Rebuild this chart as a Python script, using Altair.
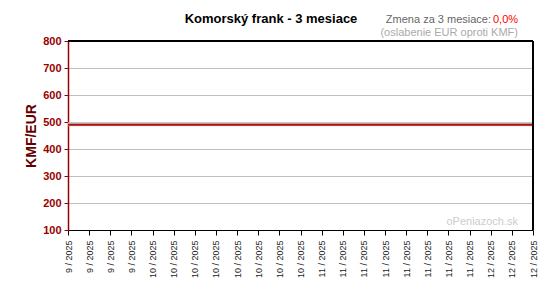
import altair as alt
import pandas as pd

tick_labels = ["9 / 2025"] * 4 + ["10 / 2025"] * 8 + ["11 / 2025"] * 8 + ["12 / 2025"] * 3
rate_values = [491.97] * 23
y_ticks = [100, 200, 300, 400, 500, 600, 700, 800]

df = pd.DataFrame({"i": list(range(len(rate_values))), "rate": rate_values})

W, H = 465, 189
FONT = "Liberation Sans"
label_arr = "[" + ",".join("'%s'" % s for s in tick_labels) + "]"

x_enc = alt.X("i:Q", scale=alt.Scale(domain=[0, len(tick_labels) - 1], nice=False, zero=False),
              axis=alt.Axis(values=list(range(len(tick_labels))), labelExpr=label_arr + "[datum.value]",
                            labelAngle=270, labelAlign="right", labelBaseline="middle",
                            labelFont=FONT, labelFontSize=9, labelColor="#222222",
                            domainColor="#000000", tickColor="#000000", tickSize=5,
                            labelPadding=5, grid=False, title=None, labelOverlap=False,
                            labelFlush=False, labelBound=False))
y_enc = alt.Y("rate:Q", scale=alt.Scale(domain=[100, 800], nice=False, zero=False),
              axis=alt.Axis(values=y_ticks, labelFont=FONT, labelFontSize=11, labelFontWeight="bold",
                            labelColor="#990000", domainColor="#990000", domainWidth=1.5,
                            tickColor="#990000", tickSize=4, gridColor="#c0c0c0",
                            labelOverlap=False, labelFlush=False, labelBound=False,
                            title="KMF/EUR", titleFont=FONT, titleFontSize=14, titleFontWeight="bold",
                            titleColor="#660000", titlePadding=4, labelPadding=3))

shadow = alt.Chart(df).mark_line(color="#c8c8c8", strokeWidth=4).encode(x=x_enc, y=y_enc)
line = alt.Chart(df).mark_line(color="#b01010", strokeWidth=2, yOffset=0.5).encode(x=x_enc, y=y_enc)

top_border = alt.Chart(df).mark_rule(color="#000000", strokeWidth=1).encode(
    x=alt.value(0), x2=alt.value(W), y=alt.value(0))
right_border = alt.Chart(df).mark_rule(color="#000000", strokeWidth=1).encode(
    x=alt.value(W), y=alt.value(0), y2=alt.value(H))

def txt(text, x, y, size, color, align="left", weight="normal"):
    return alt.Chart(pd.DataFrame({"t": [text]})).mark_text(
        font=FONT, fontSize=size, color=color, align=align, baseline="middle", fontWeight=weight
    ).encode(x=alt.value(x), y=alt.value(y), text="t:N")

title = txt("Komorský frank - 3 mesiace", 203, -22, 13, "#000000", align="center", weight="bold")
change1 = txt("Zmena za 3 mesiace: ", 423, -21, 11, "#666666", align="right")
change2 = txt("0,0%", 425, -21, 11, "#ff0000", align="left")
sub = txt("(oslabenie EUR oproti KMF)", 450, -8, 11, "#aaaaaa", align="right")
wm = txt("oPeniazoch.sk", 450, 181, 11, "#cccccc", align="right")

chart = alt.layer(shadow, line, top_border, right_border, title, change1, change2, sub, wm).properties(
    width=W, height=H,
    autosize=alt.AutoSizeParams(type="none"),
    padding={"left": 68, "top": 41, "right": 26, "bottom": 54},
    background="#ffffff",
).configure_view(stroke=None)

chart.save("out.html", embed_options={"renderer": "svg", "actions": False})
